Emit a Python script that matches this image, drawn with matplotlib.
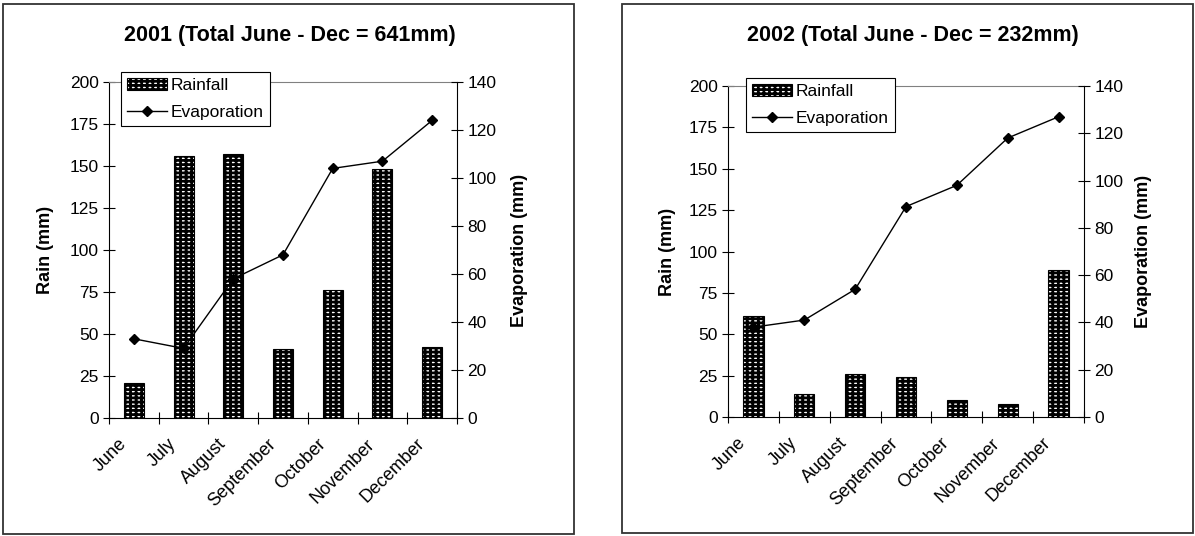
import matplotlib
matplotlib.use('Agg')
import matplotlib.pyplot as plt
import numpy as np
from matplotlib.patches import Rectangle

plt.rcParams['font.family'] = ['Liberation Sans', 'DejaVu Sans']
plt.rcParams['hatch.linewidth'] = 2.0

months = ['June', 'July', 'August', 'September', 'October', 'November', 'December']
rain_2001 = [21, 156, 157, 41, 76, 148, 42]
evap_2001 = [33, 29, 58, 68, 104, 107, 124]
rain_2002 = [61, 14, 26, 24, 10, 8, 89]
evap_2002 = [38, 41, 54, 89, 98, 118, 127]
titles = ['2001 (Total June - Dec = 641mm)', '2002 (Total June - Dec = 232mm)']

fig = plt.figure(figsize=(11.95, 5.36), dpi=100)
W, H = 1195.0, 536.0

# panel frames (pixels: x0, y0_top, x1, y1_bottom)
frames = [(3, 4, 574, 534), (622, 4, 1193, 533)]
axes_px = [(109, 82, 457, 418), (728, 86, 1084, 417)]
title_x = [290, 913]
legend_px = [(121, 72), (746, 78)]
rain_lab_x = [45, 667]
evap_lab_x = [519, 1143]

for i, (rain, evap) in enumerate([(rain_2001, evap_2001), (rain_2002, evap_2002)]):
    fx0, fy0, fx1, fy1 = frames[i]
    fig.patches.append(Rectangle((fx0 / W, 1 - fy1 / H), (fx1 - fx0) / W, (fy1 - fy0) / H,
                                 transform=fig.transFigure, fill=False,
                                 edgecolor='#333333', linewidth=1.3))
    x0, y0, x1, y1 = axes_px[i]
    ax = fig.add_axes([x0 / W, 1 - y1 / H, (x1 - x0) / W, (y1 - y0) / H])
    ax2 = ax.twinx()

    x = np.arange(len(months))
    bars = ax.bar(x, rain, width=0.4, facecolor='white', edgecolor='black',
                  hatch='----|||', linewidth=0.8, label='Rainfall', zorder=2)
    line, = ax2.plot(x, evap, color='black', linewidth=1.0, marker='D',
                     markersize=5, label='Evaporation')

    ax.set_xlim(-0.5, 6.5)
    ax.set_ylim(0, 200)
    ax.set_yticks(np.arange(0, 201, 25))
    ax2.set_ylim(0, 140)
    ax2.set_yticks(np.arange(0, 141, 20))

    # month labels sit a little left of the category centre, like Excel
    ax.set_xticks(x - 0.2)
    ax.set_xticklabels(months, rotation=45, ha='right', va='center',
                       rotation_mode='anchor', fontsize=13)
    ax.tick_params(axis='x', which='major', length=0, pad=17)
    ax.set_xticks(np.arange(-0.5, 7, 1), minor=True)
    ax.tick_params(axis='x', which='minor', direction='inout', length=9, width=0.8)
    ax.tick_params(axis='y', direction='inout', length=9, width=0.8, labelsize=12.5, pad=3)
    ax2.tick_params(axis='y', direction='inout', length=9, width=0.8, labelsize=12.5, pad=3)

    ax.spines['top'].set_color('#808080')
    ax.spines['right'].set_visible(False)
    ax2.spines['top'].set_visible(False)
    ax2.spines['left'].set_visible(False)
    ax2.spines['bottom'].set_visible(False)
    for sp in [ax.spines['left'], ax.spines['bottom'], ax2.spines['right']]:
        sp.set_linewidth(0.8)

    fig.text(title_x[i] / W, 1 - 36 / H, titles[i], ha='center', va='center',
             fontsize=15.5, fontweight='bold')
    fig.text(rain_lab_x[i] / W, 1 - (y0 + y1) / 2 / H, 'Rain (mm)', rotation=90,
             ha='center', va='center', fontsize=13, fontweight='bold')
    fig.text(evap_lab_x[i] / W, 1 - (y0 + y1) / 2 / H, 'Evaporation (mm)', rotation=90,
             ha='center', va='center', fontsize=13, fontweight='bold')

    lx, ly = legend_px[i]
    leg = ax2.legend([bars, line], ['Rainfall', 'Evaporation'], loc='upper left',
                     bbox_to_anchor=(lx / W, 1 - ly / H), bbox_transform=fig.transFigure,
                     fancybox=False, framealpha=1, edgecolor='black', fontsize=12.5,
                     handlelength=2.3, handletextpad=0.2, borderpad=0.35,
                     labelspacing=0.65, borderaxespad=0)
    leg.get_frame().set_linewidth(0.8)

fig.savefig('out.png', dpi=100)
